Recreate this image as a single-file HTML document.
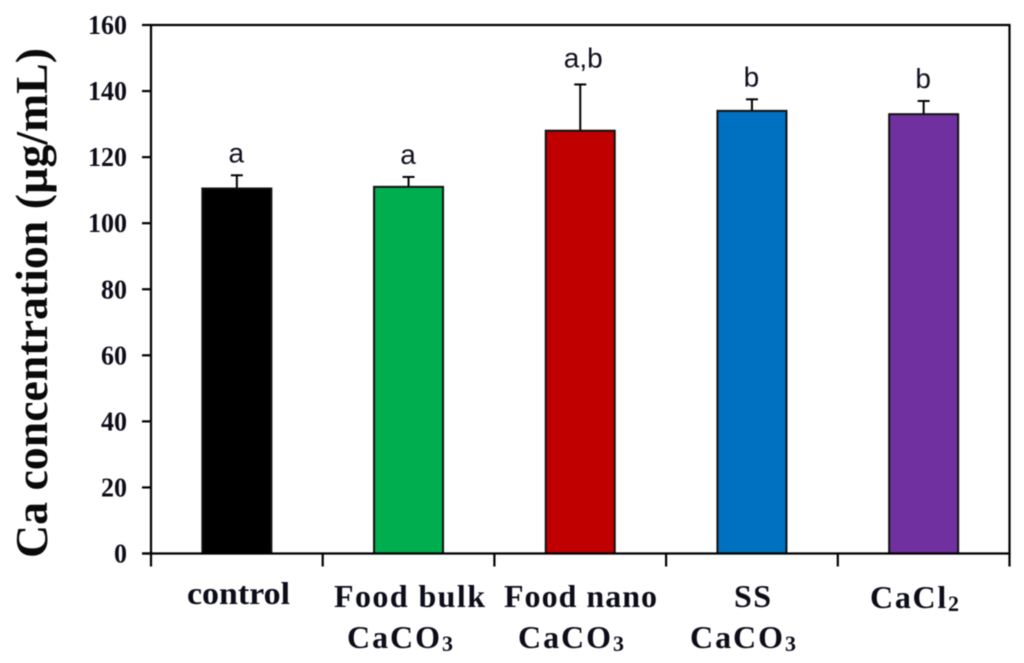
<!DOCTYPE html>
<html>
<head>
<meta charset="utf-8">
<title>Ca concentration chart</title>
<style>
html,body{margin:0;padding:0;background:#fff;}
svg{display:block;filter:blur(0.45px);}
text{font-family:"Liberation Serif",serif;}
</style>
</head>
<body>
<svg id="chart" width="1024" height="663" viewBox="0 0 1024 663">
  <rect x="0" y="0" width="1024" height="663" fill="#fff"/>
  <g id="bars"></g>
  <g id="axes"></g>
  <text transform="translate(47,558) rotate(-90)" font-size="46" font-weight="bold" fill="#0a0a0a" textLength="510" lengthAdjust="spacingAndGlyphs">Ca concentration (µg/mL)</text>
  <g font-weight="bold" font-size="32" fill="#0d0d1a">
    <text x="187" y="604" textLength="103" lengthAdjust="spacingAndGlyphs">control</text>
    <text x="334" y="607" textLength="151" lengthAdjust="spacing">Food bulk</text>
    <text x="347" y="648" textLength="106" lengthAdjust="spacing">CaCO<tspan font-size="22" dy="3">3</tspan></text>
    <text x="504" y="607" textLength="153" lengthAdjust="spacing">Food nano</text>
    <text x="518" y="648" textLength="106" lengthAdjust="spacing">CaCO<tspan font-size="22" dy="3">3</tspan></text>
    <text x="734" y="607" textLength="37" lengthAdjust="spacing">SS</text>
    <text x="690" y="648" textLength="106" lengthAdjust="spacing">CaCO<tspan font-size="22" dy="3">3</tspan></text>
    <text x="870" y="608" textLength="89" lengthAdjust="spacing">CaCl<tspan font-size="22" dy="3">2</tspan></text>
  </g>
</svg>
<script>
const categories = ["control", "food-bulk", "food-nano", "ss", "cacl2"];
const means = [110.5, 111, 128, 134, 133];
const errors = [4, 3, 14, 3.5, 4];
const letters = ["a", "a", "a,b", "b", "b"];
const colors = ["#000000", "#00ae4f", "#c00000", "#0070c0", "#7030a0"];
const yTicks = [0, 20, 40, 60, 80, 100, 120, 140, 160];

const NS = "http://www.w3.org/2000/svg";
const left = 151, right = 1009.5, top_ = 25, bottom = 553.5, yMax = 160;
const barWidth = 69;
function yScale(v) { return bottom - (v / yMax) * (bottom - top_); }
function xBand(i) { return left + (right - left) * i / categories.length; }
function xCenter(i) { return xBand(i + 0.5); }

function make(tag, attrs) {
  const el = document.createElementNS(NS, tag);
  for (const k in attrs) el.setAttribute(k, attrs[k]);
  return el;
}
const barsG = document.getElementById("bars");
const axesG = document.getElementById("axes");

categories.forEach(function (cat, i) {
  const cx = xCenter(i);
  const yTop = yScale(means[i]);
  const yErr = yScale(means[i] + errors[i]);

  const stem = make("line", {x1: cx, x2: cx, y1: yTop, y2: yErr, stroke: "#000", "stroke-width": 2});
  
  
  barsG.appendChild(stem);

  const cap = make("line", {x1: cx - 6, x2: cx + 6, y1: yErr, y2: yErr, stroke: "#000", "stroke-width": 2});
  
  
  barsG.appendChild(cap);

  const bar = make("rect", {x: cx - barWidth / 2, y: yTop, width: barWidth, height: bottom - yTop, fill: colors[i], stroke: "#111", "stroke-width": 2});
  
  
  barsG.appendChild(bar);

  const isPair = letters[i].length > 1;
  const gap = isPair ? 17 : 13;
  const label = make("text", {x: cx + (isPair ? 3 : -0.5), y: yErr - gap, "text-anchor": "middle", "font-size": 28, fill: "#101020"});
  label.style.fontFamily = '"Liberation Sans", sans-serif';
  label.textContent = letters[i];
  
  
  barsG.appendChild(label);
});

const frame = make("path", {d: "M" + left + " " + bottom + "V" + top_ + "H" + right + "V" + bottom + "H" + (left - 9), fill: "none", stroke: "#000", "stroke-width": 2.2});


axesG.appendChild(frame);

yTicks.forEach(function (t) {
  const y = yScale(t);
  const tick = make("line", {x1: left - 9, x2: left, y1: y, y2: y, stroke: "#000", "stroke-width": 2.2});
  
  
  axesG.appendChild(tick);

  const lab = make("text", {x: 127, y: y + 9, "text-anchor": "end", "font-size": 27, "font-weight": "bold", fill: "#0d0d1a", textLength: 13 * String(t).length, lengthAdjust: "spacingAndGlyphs"});
  lab.textContent = String(t);
  
  
  axesG.appendChild(lab);
});

for (let i = 0; i <= categories.length; i++) {
  const x = xBand(i);
  const tick = make("line", {x1: x, x2: x, y1: bottom, y2: bottom + 13, stroke: "#000", "stroke-width": 2.2});
  
  
  axesG.appendChild(tick);
}
</script>
</body>
</html>
